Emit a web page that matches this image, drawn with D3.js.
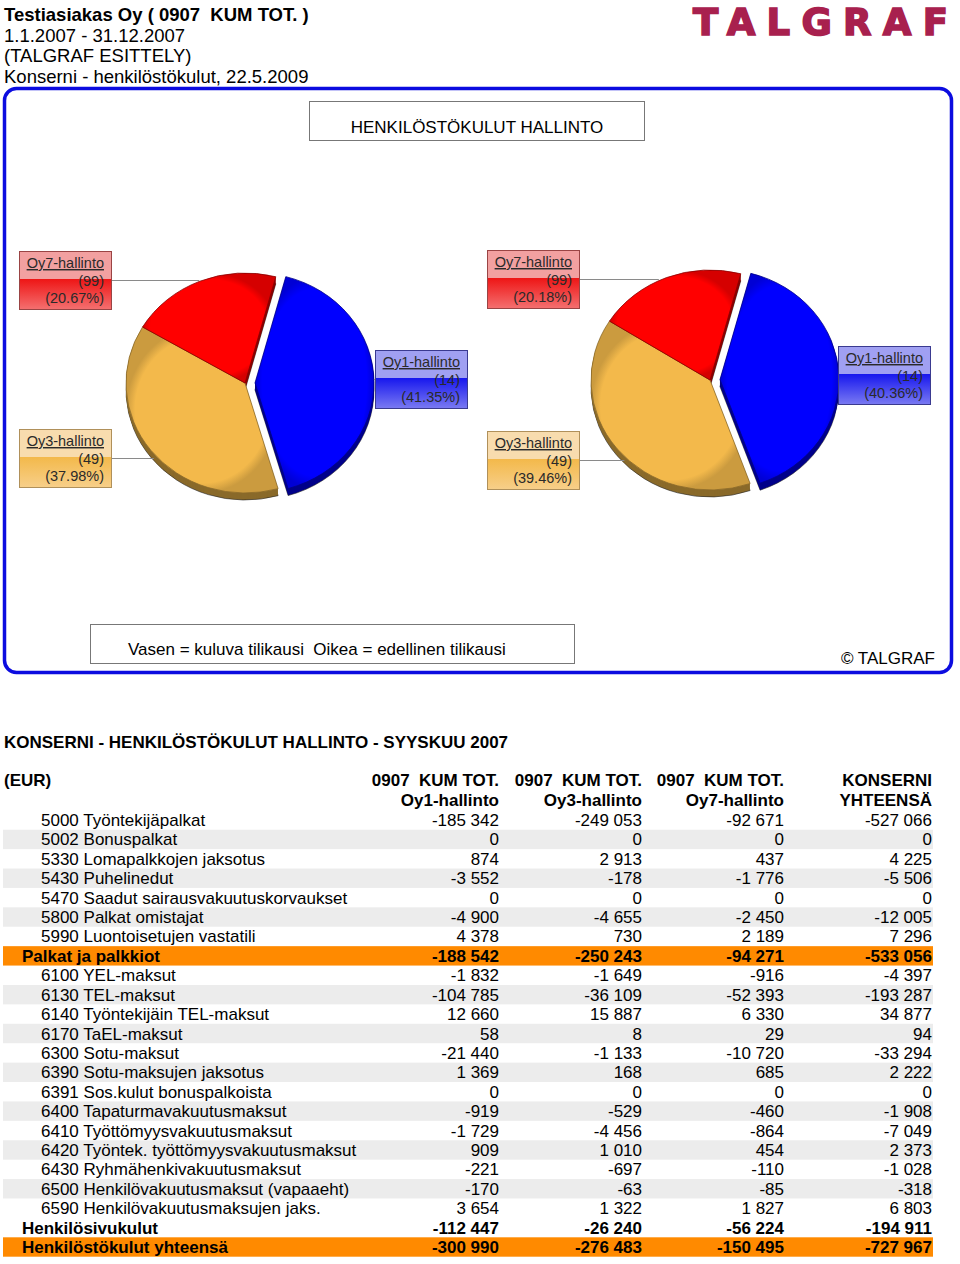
<!DOCTYPE html>
<html><head><meta charset="utf-8">
<script src="https://cdn.jsdelivr.net/npm/d3@7"></script>
<style>
html,body{margin:0;padding:0;background:#fff;}
svg{display:block;}
text{white-space:pre;}
.reg{font-family:"Liberation Sans",Arial,sans-serif;}
.nar{font-family:"Liberation Sans Narrow","Arial Narrow","Liberation Sans",sans-serif;}
</style></head>
<body>
<svg id="c" width="960" height="1264"></svg>
<script>
// ---------- DATA ----------
const headerLines = ["Testiasiakas Oy ( 0907  KUM TOT. )", "1.1.2007 - 31.12.2007", "(TALGRAF ESITTELY)", "Konserni - henkilöstökulut, 22.5.2009"];
const chartTitle = "HENKILÖSTÖKULUT HALLINTO";
const legendText = "Vasen = kuluva tilikausi  Oikea = edellinen tilikausi";
const copyrightText = "© TALGRAF";
const tableTitle = "KONSERNI - HENKILÖSTÖKULUT HALLINTO - SYYSKUU 2007";
const unitLabel = "(EUR)";
const colHead1 = ["0907  KUM TOT.", "0907  KUM TOT.", "0907  KUM TOT.", "KONSERNI"];
const colHead2 = ["Oy1-hallinto", "Oy3-hallinto", "Oy7-hallinto", "YHTEENSÄ"];

const companies = ["Oy1-hallinto", "Oy3-hallinto", "Oy7-hallinto"];
const companyCodes = ["14", "49", "99"];
const previousPct = [40.36, 39.46, 20.18];

const rowLabels = ["5000 Työntekijäpalkat","5002 Bonuspalkat","5330 Lomapalkkojen jaksotus","5430 Puhelinedut","5470 Saadut sairausvakuutuskorvaukset","5800 Palkat omistajat","5990 Luontoisetujen vastatili","Palkat ja palkkiot","6100 YEL-maksut","6130 TEL-maksut","6140 Työntekijäin TEL-maksut","6170 TaEL-maksut","6300 Sotu-maksut","6390 Sotu-maksujen jaksotus","6391 Sos.kulut bonuspalkoista","6400 Tapaturmavakuutusmaksut","6410 Työttömyysvakuutusmaksut","6420 Työntek. työttömyysvakuutusmaksut","6430 Ryhmähenkivakuutusmaksut","6500 Henkilövakuutusmaksut (vapaaeht)","6590 Henkilövakuutusmaksujen jaks.","Henkilösivukulut","Henkilöstökulut yhteensä"];
const rowTypes = ["d","d","d","d","d","d","d","total","d","d","d","d","d","d","d","d","d","d","d","d","d","sub","total"];
const oy1 = [-185342,0,874,-3552,0,-4900,4378,-188542,-1832,-104785,12660,58,-21440,1369,0,-919,-1729,909,-221,-170,3654,-112447,-300990];
const oy3 = [-249053,0,2913,-178,0,-4655,730,-250243,-1649,-36109,15887,8,-1133,168,0,-529,-4456,1010,-697,-63,1322,-26240,-276483];
const oy7 = [-92671,0,437,-1776,0,-2450,2189,-94271,-916,-52393,6330,29,-10720,685,0,-460,-864,454,-110,-85,1827,-56224,-150495];
const konserni = [-527066,0,4225,-5506,0,-12005,7296,-533056,-4397,-193287,34877,94,-33294,2222,0,-1908,-7049,2373,-1028,-318,6803,-194911,-727967];

// ---------- STYLE / LAYOUT ----------
const faceColors = ["#0000ff", "#f3b94b", "#ff0000"];
const sideColors = ["#00008a", "#8a6a2a", "#8a0000"];
const boxLight = ["#a0a0f2", "#f8dcae", "#f2a0a0"];
const boxSat = ["#1818ee", "#f3b94b", "#ee1616"];
const boxEnd = ["#7a7af2", "#f7cf8a", "#f47070"];
const boxStroke = ["#3a3a90", "#b0905a", "#9a4444"];

const svg = d3.select("#c");
const defs = svg.append("defs");

// header text
svg.append("g").selectAll("text").data(headerLines).join("text")
  .attr("class","reg").attr("x",4).attr("y",(d,i)=>21+i*20.7)
  .attr("font-size",18.5).attr("font-weight",(d,i)=>i===0?"bold":"normal").attr("fill","#000").text(d=>d);

// logo
svg.append("text").attr("x",693).attr("y",35)
  .attr("font-family","'DejaVu Sans',sans-serif").attr("font-weight","bold").attr("font-size",37)
  .attr("fill","#a8204e").attr("stroke","#a8204e").attr("stroke-width",1.6)
  .attr("textLength",255).attr("lengthAdjust","spacing").text("TALGRAF");

// frame
svg.append("rect").attr("x",4.5).attr("y",88.5).attr("width",947).attr("height",584).attr("rx",12)
  .attr("fill","none").attr("stroke","#0c0ce0").attr("stroke-width",3.5);

// title box
svg.append("rect").attr("x",309.5).attr("y",101.5).attr("width",335).attr("height",39).attr("fill","#fff").attr("stroke","#777").attr("stroke-width",1);
svg.append("text").attr("class","nar").attr("x",477).attr("y",133).attr("text-anchor","middle").attr("font-size",17).text(chartTitle);

// legend box
svg.append("rect").attr("x",90.5).attr("y",624.5).attr("width",484).attr("height",39).attr("fill","#fff").attr("stroke","#777").attr("stroke-width",1);
svg.append("text").attr("class","nar").attr("x",128).attr("y",655).attr("font-size",17).text(legendText);
svg.append("text").attr("class","nar").attr("x",935).attr("y",664).attr("text-anchor","end").attr("font-size",17).text(copyrightText);

// gradients
faceColors.forEach((c,i)=>{
  const g = defs.append("linearGradient").attr("id","bg"+i).attr("x1",0).attr("y1",0).attr("x2",0).attr("y2",1);
  g.append("stop").attr("offset","0%").attr("stop-color",boxLight[i]);
  g.append("stop").attr("offset","47%").attr("stop-color",boxLight[i]);
  g.append("stop").attr("offset","48%").attr("stop-color",boxSat[i]);
  g.append("stop").attr("offset","100%").attr("stop-color",boxEnd[i]);
  const r = defs.append("radialGradient").attr("id","fg"+i).attr("cx","50%").attr("cy","50%").attr("r","50%");
  r.append("stop").attr("offset","0%").attr("stop-color",c);
  r.append("stop").attr("offset","88%").attr("stop-color",c);
  r.append("stop").attr("offset","100%").attr("stop-color",d3.color(c).darker(0.5));
});

// ---------- PIES ----------
const totalIdx = rowLabels.length - 1;
const currentValues = [oy1[totalIdx], oy3[totalIdx], oy7[totalIdx]].map(Math.abs);
const pctFmt = d3.format(".2f");

function drawPie(cfg, values) {
  const rx = 119, ry = 110, k = ry/rx, depth = 7, explode = 10;
  const start = 15*Math.PI/180;
  const pie = d3.pie().sort(null).value(d=>d).startAngle(start).endAngle(start+2*Math.PI);
  const arcs = pie(values);
  const total = d3.sum(values);
  const arc = d3.arc().innerRadius(0).outerRadius(rx);
  const off = (a,i) => { if (i!==0) return [0,0]; const m=(a.startAngle+a.endAngle)/2; return [Math.sin(m)*explode, -Math.cos(m)*explode*k]; };
  const g = svg.append("g");
  const layers = [];
  d3.range(depth,0,-1).forEach(d => arcs.forEach((a,i)=>layers.push({a,i,d})));
  g.selectAll("path.side").data(layers).join("path").attr("class","side")
    .attr("transform",l=>{const [ox,oy]=off(l.a,l.i);return `translate(${cfg.cx+ox},${cfg.cy+oy+l.d}) scale(1,${k})`;})
    .attr("d",l=>arc(l.a)).attr("fill",l=>sideColors[l.i])
    .attr("stroke",l=>l.d===depth?"#222":"none").attr("stroke-width",0.6).attr("vector-effect","non-scaling-stroke");
  g.selectAll("path.face").data(arcs).join("path").attr("class","face")
    .attr("transform",(a,i)=>{const [ox,oy]=off(a,i);return `translate(${cfg.cx+ox},${cfg.cy+oy}) scale(1,${k})`;})
    .attr("d",arc).attr("fill",(a,i)=>`url(#fg${i})`)
    .attr("stroke",(a,i)=>sideColors[i]).attr("stroke-width",0.8).attr("vector-effect","non-scaling-stroke");

  const bw = 92, bh = 58;
  arcs.forEach((a,i)=>{
    const [bx,by] = cfg.boxes[i];
    const ly = by + 29;
    const [ox] = off(a,i);
    const dy = (ly - cfg.cy)/ry;
    const half = rx*Math.sqrt(Math.max(0,1-dy*dy));
    const right = bx > cfg.cx;
    const ex = right ? cfg.cx + ox + half : cfg.cx - half - 4;
    const lx = right ? bx : bx + bw;
    g.append("line").attr("x1",lx).attr("x2",ex).attr("y1",ly+0.5).attr("y2",ly+0.5).attr("stroke","#8a8a8a").attr("stroke-width",1);
    g.append("rect").attr("x",bx+0.5).attr("y",by+0.5).attr("width",bw).attr("height",bh)
      .attr("fill",`url(#bg${i})`).attr("stroke",boxStroke[i]).attr("stroke-width",1);
    const pct = cfg.pct ? cfg.pct[i] : a.value/total*100;
    const lines = [companies[i], "("+companyCodes[i]+")", "("+pctFmt(pct)+"%)"];
    g.selectAll(null).data(lines).join("text").attr("class","reg")
      .attr("x",bx+bw-7).attr("y",(d,j)=>by+17+j*17.5).attr("text-anchor","end").attr("font-size",14.5)
      .attr("fill","#2a2a2a").attr("text-decoration",(d,j)=>j===0?"underline":null).text(d=>d);
  });
}
drawPie({cx:245, cy:383, boxes:[[375,350],[19,429],[19,251]]}, currentValues);
drawPie({cx:710, cy:380, boxes:[[838,346],[487,431],[487,250]], pct:previousPct}, previousPct);

// ---------- TABLE ----------
const nf = d3.formatLocale({decimal:",", thousands:" ", grouping:[3], currency:["",""], minus:"-"}).format(",d");
svg.append("text").attr("class","nar").attr("x",4).attr("y",748).attr("font-size",17).attr("font-weight","bold").text(tableTitle);
svg.append("text").attr("class","nar").attr("x",4).attr("y",786).attr("font-size",17).attr("font-weight","bold").text(unitLabel);
const colX = [499, 642, 784, 932];
const cols = [oy1, oy3, oy7, konserni];
colX.forEach((x,c)=>{
  svg.append("text").attr("class","nar").attr("x",x).attr("y",786).attr("text-anchor","end").attr("font-size",17).attr("font-weight","bold").text(colHead1[c]);
  svg.append("text").attr("class","nar").attr("x",x).attr("y",806).attr("text-anchor","end").attr("font-size",17).attr("font-weight","bold").text(colHead2[c]);
});
const rowY = d3.scaleLinear().domain([0, rowLabels.length-1]).range([820, 1247]);
const rowH = 19.4;
const rows = svg.append("g").selectAll("g").data(rowLabels).join("g")
  .attr("transform",(d,i)=>`translate(0,${rowY(i)})`);
rows.append("rect").attr("x",3).attr("y",-rowH/2).attr("width",930).attr("height",rowH)
  .attr("fill",(d,i)=>rowTypes[i]==="total"?"#ff8a00":(rowTypes[i]==="d"&&i%2===1?"#ececec":"none"));
rows.append("text").attr("class",(d,i)=>rowTypes[i]==="d"?"reg":"nar")
  .attr("x",(d,i)=>rowTypes[i]==="d"?41:22).attr("y",6).attr("font-size",(d,i)=>rowTypes[i]==="d"?17:17)
  .attr("font-weight",(d,i)=>rowTypes[i]==="d"?"normal":"bold").text(d=>d);
cols.forEach((vals,c)=>{
  rows.append("text").attr("class",(d,i)=>rowTypes[i]==="d"?"reg":"nar")
    .attr("x",colX[c]).attr("y",6).attr("text-anchor","end")
    .attr("font-size",17)
    .attr("font-weight",(d,i)=>rowTypes[i]==="d"?"normal":"bold")
    .text((d,i)=>nf(vals[i]));
});
</script>
</body></html>
